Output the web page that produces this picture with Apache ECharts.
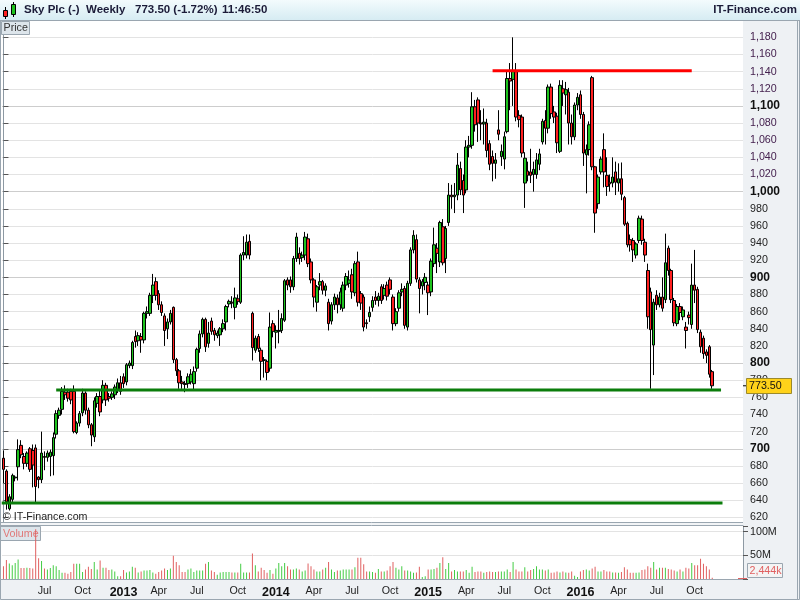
<!DOCTYPE html>
<html>
<head>
<meta charset="utf-8">
<script src="https://cdn.jsdelivr.net/npm/echarts@6/dist/echarts.min.js"></script>
<style>html,body{margin:0;padding:0;background:#fff}#c{width:800px;height:600px}</style>
</head>
<body>
<div id="c"></div>
<script>
// ---------------- data ----------------
const startWeek = '2012-03-26';   // Monday of first weekly candle
const slotCount = 253;            // weekly slots shown on the axis (data + empty right margin)
const lastClose = 773.5;
const lastVolumeLabel = '2,444k';

const opens = [689,674,630,641,666,679,704,691,683,700,698,701,667,664,691,690,691,692,717,739,
746,766,766,767,767,719,730,742,765,745,728,714,753,761,757,774,761,760,763,769,
777,784,778,797,797,831,826,831,827,858,858,879,895,881,868,855,840,848,865,804,
791,778,776,776,778,776,794,817,834,851,823,849,838,832,833,840,848,869,871,865,
875,871,926,926,942,858,815,831,815,804,802,794,846,836,837,838,850,897,897,889,
922,928,923,926,945,918,897,871,891,895,885,871,849,868,876,868,864,891,893,903,
882,918,881,877,847,854,865,877,873,889,879,891,897,877,846,864,883,887,842,893,
932,944,897,890,894,891,883,916,934,918,959,922,964,996,994,996,1027,1013,1002,1052,
1054,1099,1107,1080,1079,1080,1056,1041,1033,1072,1041,1038,1070,1132,1131,1140,1089,1087,1010,1024,
1023,1020,1020,1032,1058,1083,1074,1122,1093,1088,1047,1120,1113,1116,1080,1064,1101,1113,1090,1043,
1049,1133,1029,986,1023,1049,1019,1011,1010,1023,1010,1015,993,963,944,943,926,943,968,941,
908,883,821,879,868,877,874,934,908,873,846,866,854,842,856,845,891,886,836,829,
813,819,790];
const closes = [676,638,644,669,667,699,693,683,695,676,681,656,664,695,690,695,696,713,741,745,
767,763,759,757,720,730,741,765,745,728,716,756,761,743,774,757,759,764,772,777,
767,776,798,800,824,825,832,827,858,860,879,891,879,868,859,838,848,858,804,791,
777,776,775,784,787,790,816,834,851,819,835,837,833,835,840,846,866,872,870,876,
872,926,929,941,926,818,829,817,802,803,789,842,837,838,838,852,896,891,889,922,
947,922,926,947,916,897,877,889,895,885,890,846,868,877,868,883,891,901,897,883,
916,871,870,842,846,859,873,873,878,873,887,878,886,846,860,882,886,844,893,932,
949,898,887,895,900,882,919,938,928,964,917,957,996,994,996,1031,1002,996,1052,1054,
1099,1078,1080,1079,1081,1048,1032,1033,1037,1067,1047,1064,1132,1129,1140,1087,1084,1045,1039,1019,
1019,1026,1037,1044,1082,1074,1122,1091,1087,1057,1124,1115,1119,1080,1064,1101,1110,1090,1045,1049,
1078,1029,975,1017,1038,1023,1006,1009,1017,1011,1015,997,962,938,938,932,939,969,943,926,
854,839,871,868,877,864,917,908,874,847,866,859,862,838,853,891,885,839,819,811,
809,787,773.5];
const lows = [660,629,628,638,662,663,689,676,679,673,655,637,654,660,675,685,668,669,712,735,
740,757,755,752,718,717,726,738,740,724,703,708,748,738,753,750,755,757,758,765,
763,771,774,794,793,818,820,812,823,852,855,870,873,862,855,820,828,845,800,785,
770,770,766,771,775,768,790,812,830,813,818,833,826,829,820,836,838,865,864,851,
868,869,920,922,921,803,812,813,780,783,780,790,830,817,823,835,848,885,882,885,
918,915,918,920,912,893,865,860,885,880,878,838,845,862,858,862,860,885,888,875,
878,866,862,837,840,848,860,868,866,869,874,873,880,838,843,860,878,840,838,890,
928,894,858,880,885,856,878,912,905,912,914,905,960,980,975,990,996,975,998,1040,
1050,1070,1058,1060,1055,1040,1025,1012,1015,1060,1030,1026,1068,1095,1100,1082,1075,1040,981,1012,
1010,1000,1015,1025,1055,1055,1068,1085,1080,1045,1045,1100,1090,1055,1055,1060,1095,1085,1030,998,
1042,1025,952,980,1020,1005,995,1000,1005,996,1000,990,960,935,930,918,922,940,938,918,
840,770,786,862,865,860,870,902,870,843,843,850,850,817,845,840,870,835,812,805,
800,783,770];
const highs = [698,676,647,671,669,711,710,695,697,702,705,705,668,720,697,698,699,719,745,748,
772,774,770,770,774,732,744,770,767,748,730,760,765,768,780,777,765,767,775,782,
785,788,800,803,826,838,836,835,860,866,882,904,900,885,872,858,852,862,866,806,
793,785,779,788,793,796,818,838,853,853,848,853,841,838,842,851,868,874,878,888,
880,928,948,950,950,860,832,834,818,807,804,859,850,844,862,858,898,900,901,925,
952,935,930,953,951,922,899,891,905,897,893,875,871,881,880,888,895,905,908,910,
919,930,884,880,851,866,878,884,882,892,892,895,900,880,864,885,893,890,896,935,
955,950,900,898,905,895,922,958,940,966,968,960,1010,1008,1010,1045,1035,1020,1060,1065,
1116,1107,1110,1095,1097,1085,1060,1048,1045,1095,1055,1070,1140,1150,1180,1150,1095,1090,1046,1035,
1050,1035,1045,1050,1085,1095,1125,1126,1100,1092,1130,1130,1128,1121,1090,1104,1115,1118,1093,1055,
1082,1135,1030,1020,1041,1068,1040,1020,1040,1035,1033,1034,995,965,950,946,941,972,972,945,
916,888,875,885,882,900,951,937,910,876,869,870,866,848,860,916,932,889,839,832,
816,821,792];
const volumes = [27,40,33,29,34,41,23,23,24,23,22,105,44,38,22,20,23,29,27,19,
13,13,11,15,32,32,32,15,20,26,21,36,20,39,24,24,19,20,16,6,
6,19,14,16,26,24,14,16,18,18,19,14,11,15,18,22,19,22,49,36,
29,15,15,20,22,15,18,18,18,32,36,18,15,9,14,15,15,15,14,14,
14,32,14,14,14,54,29,16,24,19,13,19,11,22,34,27,34,27,20,20,
22,20,16,18,33,27,20,16,16,20,24,36,20,15,18,18,20,20,20,20,
25,45,45,31,16,16,15,13,21,16,16,18,27,36,24,20,27,18,18,16,
13,14,26,4,6,20,20,21,24,34,46,21,34,16,19,16,16,16,19,13,
26,15,16,16,13,15,16,15,15,16,16,16,20,15,36,20,16,16,25,16,
19,21,27,20,20,18,20,13,14,16,14,16,14,13,16,7,4,16,19,20,
18,22,26,16,16,19,16,16,14,14,13,15,25,20,13,13,13,14,19,20,
27,24,36,20,24,24,24,21,20,18,16,20,16,24,22,34,29,29,43,32,
27,20,2.444];

// horizontal trend lines drawn by hand on the chart: [from slot, to slot, price]
const resistanceLine = [167, 235, 1141];
const supportLine = [18, 245, 768.5];
const baseLine = [-0.6, 245.5, 636.7];

const quarterMonthNames = {3: 'Apr', 6: 'Jul', 9: 'Oct'};

// ---------------- build ----------------
const FONT = '"Liberation Sans", Arial, sans-serif';
const UP = '#1ec31e', DOWN = '#ff2020';
const VUP = '#44cc44', VDOWN = '#e06060';

const cats = [];
const t0 = Date.parse(startWeek + 'T00:00:00Z');
for (let i = 0; i < slotCount; i++) cats.push(new Date(t0 + i * 7 * 86400000).toISOString().slice(0, 10));

function quarterLabel(val) {
  const m = +val.slice(5, 7) - 1, day = +val.slice(8, 10);
  if (day > 7) return null;
  if (m === 0) return val.slice(0, 4);
  return quarterMonthNames[m] || null;
}
function commas(v) {
  const s = String(Math.round(v));
  return s.length > 3 ? s.slice(0, s.length - 3) + ',' + s.slice(s.length - 3) : s;
}

const candleData = opens.map((o, i) => [o, closes[i], lows[i], highs[i]]);
const volData = volumes.map((v, i) => ({value: v, itemStyle: {color: closes[i] >= opens[i] ? VUP : VDOWN}}));

const priceSplitColors = [];
for (let v = 600; v <= 1200; v += 20) {
  priceSplitColors.push(v === 600 || v === 1200 ? 'rgba(0,0,0,0)' : (v % 100 === 0 ? '#cdcdcd' : '#e3e3e3'));
}

function levelSeries(l, color) {
  return {type: 'line', xAxisIndex: 2, yAxisIndex: 0, data: [[l[0], l[2]], [l[1], l[2]]],
    symbol: 'none', silent: true, z: 5, lineStyle: {color: color, width: 3}};
}

const chart = echarts.init(document.getElementById('c'), null, {renderer: 'canvas'});
const option = {
  animation: false,
  backgroundColor: '#ffffff',
  textStyle: {fontFamily: FONT},
  grid: [
    {left: 2, right: 57, top: 20.2, height: 514.3},
    {left: 2, right: 57, top: 526, height: 53}
  ],
  xAxis: [
    {type: 'category', gridIndex: 0, data: cats, boundaryGap: true,
      axisLine: {show: false}, axisTick: {show: false}, axisLabel: {show: false}, splitLine: {show: false}},
    {type: 'category', gridIndex: 1, data: cats, boundaryGap: true,
      axisLine: {show: false}, axisTick: {show: false}, splitLine: {show: false},
      axisLabel: {
        margin: 7,
        interval: (idx, val) => idx > 4 && idx < opens.length && quarterLabel(val) !== null,
        formatter: (val) => {
          const t = quarterLabel(val);
          if (!t) return '';
          return /^\d{4}$/.test(t) ? '{y|' + t + '}' : '{m|' + t + '}';
        },
        rich: {
          y: {fontFamily: FONT, fontWeight: 'bold', fontSize: 12.5, color: '#111'},
          m: {fontFamily: FONT, fontSize: 10.7, color: '#222'}
        }
      }},
    {type: 'value', gridIndex: 0, min: -0.5, max: slotCount - 0.5, show: false, position: 'top'}
  ],
  yAxis: [
    {type: 'value', gridIndex: 0, position: 'right', min: 600, max: 1200, interval: 20, scale: false,
      axisLine: {show: true, lineStyle: {color: '#8d99a3', width: 1}},
      axisTick: {show: true, length: 5, lineStyle: {color: '#555'}},
      splitLine: {show: true, lineStyle: {color: priceSplitColors, width: 1}},
      axisLabel: {
        margin: 7,
        formatter: (v) => {
          if (v <= 600 || v >= 1200) return '';
          const s = commas(v);
          if (v % 100 === 0) return '{b|' + s + '}';
          return v > 1000 ? '{p|' + s + '}' : '{n|' + s + '}';
        },
        rich: {
          b: {fontFamily: FONT, fontWeight: 'bold', fontSize: 12, color: '#111'},
          n: {fontFamily: FONT, fontSize: 10.7, color: '#222'},
          p: {fontFamily: FONT, fontSize: 10.7, color: '#45214f'}
        }
      }},
    {type: 'value', gridIndex: 1, position: 'right', min: 0, max: 112, interval: 50,
      axisLine: {show: true, lineStyle: {color: '#8d99a3', width: 1}},
      axisTick: {show: true, length: 5, lineStyle: {color: '#555'}},
      splitLine: {show: true, lineStyle: {color: ['rgba(0,0,0,0)', '#e3e3e3', '#e3e3e3', 'rgba(0,0,0,0)'], width: 1}},
      axisLabel: {
        margin: 7, fontFamily: FONT, fontSize: 10.7, color: '#222',
        formatter: (v) => (v === 50 || v === 100) ? v + 'M' : ''
      }}
  ],
  series: [
    {type: 'candlestick', xAxisIndex: 0, yAxisIndex: 0, data: candleData, barWidth: 3, z: 3,
      itemStyle: {color: UP, color0: DOWN, borderColor: '#000', borderColor0: '#000', borderWidth: 1}},
    {type: 'bar', xAxisIndex: 1, yAxisIndex: 1, data: volData, barWidth: 1, silent: true, z: 3},
    levelSeries(resistanceLine, '#ff0000'),
    levelSeries(supportLine, '#0b7d0b'),
    levelSeries(baseLine, '#0b7d0b')
  ]
};
chart.setOption(option);

// overlays / frame
const yLast = chart.convertToPixel({yAxisIndex: 0}, lastClose);
const graphics = [
  // axis area backgrounds
  {type: 'rect', id: 'axbg', z: -10, shape: {x: 743, y: 20, width: 57, height: 580}, style: {fill: '#eef1f4'}},
  {type: 'rect', id: 'xbg', z: -10, shape: {x: 0, y: 579, width: 800, height: 21}, style: {fill: '#eef1f4'}},
  {type: 'line', id: 'xbgline', z: 50, shape: {x1: 0, y1: 579.5, x2: 743, y2: 579.5}, style: {stroke: '#9aa6b0', lineWidth: 1}},
  // panel separator
  {type: 'rect', id: 'sep', z: 50, shape: {x: 0, y: 522, width: 743, height: 4}, style: {fill: '#f2f4f6'}},
  {type: 'line', id: 'sep1', z: 51, shape: {x1: 0, y1: 522.5, x2: 743, y2: 522.5}, style: {stroke: '#9aa6b0', lineWidth: 1}},
  {type: 'line', id: 'sep2', z: 51, shape: {x1: 0, y1: 525.5, x2: 743, y2: 525.5}, style: {stroke: '#9aa6b0', lineWidth: 1}},
  // outer frame
  {type: 'rect', id: 'frame', z: 60, shape: {x: 0.5, y: 0.5, width: 799, height: 599}, style: {fill: null, stroke: '#9aa6b0', lineWidth: 1}},
  {type: 'line', id: 'rframe', z: 60, shape: {x1: 797.5, y1: 20, x2: 797.5, y2: 600}, style: {stroke: '#9aa6b0', lineWidth: 1}},
  // title bar
  {type: 'rect', id: 'titlebar', z: 100, shape: {x: 0, y: 0, width: 800, height: 20},
    style: {fill: new echarts.graphic.LinearGradient(0, 0, 0, 1, [{offset: 0, color: '#f3fbfd'}, {offset: 1, color: '#d6ecf3'}])}},
  {type: 'line', id: 'titleline', z: 101, shape: {x1: 0, y1: 20.5, x2: 800, y2: 20.5}, style: {stroke: '#9aa6b0', lineWidth: 1}},
  // icon
  {type: 'line', id: 'ic1w', z: 102, shape: {x1: 5.5, y1: 7, x2: 5.5, y2: 19}, style: {stroke: '#000', lineWidth: 1}},
  {type: 'rect', id: 'ic1', z: 103, shape: {x: 3.5, y: 10.5, width: 4, height: 6}, style: {fill: DOWN, stroke: '#000', lineWidth: 1}},
  {type: 'line', id: 'ic2w', z: 102, shape: {x1: 13.5, y1: 2, x2: 13.5, y2: 17}, style: {stroke: '#000', lineWidth: 1}},
  {type: 'rect', id: 'ic2', z: 103, shape: {x: 11.5, y: 4.5, width: 4, height: 10}, style: {fill: UP, stroke: '#000', lineWidth: 1}},
  {type: 'text', id: 't1', z: 104, x: 24, y: 10, style: {text: 'Sky Plc (-)', fill: '#1b1b38', font: 'bold 11.5px ' + FONT, textVerticalAlign: 'middle'}},
  {type: 'text', id: 't2', z: 104, x: 86, y: 10, style: {text: 'Weekly', fill: '#1b1b38', font: 'bold 11.5px ' + FONT, textVerticalAlign: 'middle'}},
  {type: 'text', id: 't3', z: 104, x: 135, y: 10, style: {text: '773.50 (-1.72%)', fill: '#1b1b38', font: 'bold 11.5px ' + FONT, textVerticalAlign: 'middle'}},
  {type: 'text', id: 't4', z: 104, x: 222, y: 10, style: {text: '11:46:50', fill: '#1b1b38', font: 'bold 11.5px ' + FONT, textVerticalAlign: 'middle'}},
  {type: 'text', id: 't5', z: 104, x: 797, y: 10, style: {text: 'IT-Finance.com', fill: '#1b1b38', font: 'bold 11.5px ' + FONT, textAlign: 'right', textVerticalAlign: 'middle'}},
  // panel tags
  {type: 'rect', id: 'ptag', z: 70, shape: {x: 1.5, y: 21.5, width: 28, height: 13}, style: {fill: '#dde5eb', stroke: '#9aa6b0', lineWidth: 1}},
  {type: 'text', id: 'ptagt', z: 71, x: 3.5, y: 28.5, style: {text: 'Price', fill: '#333', font: '10.7px ' + FONT, textVerticalAlign: 'middle'}},
  {type: 'rect', id: 'vtag', z: 1, shape: {x: 0.5, y: 526.5, width: 40, height: 14}, style: {fill: '#dde5eb', stroke: '#9aa6b0', lineWidth: 1}},
  {type: 'text', id: 'vtagt', z: 1, x: 3, y: 534, style: {text: 'Volume', fill: '#e07878', font: '10.7px ' + FONT, textVerticalAlign: 'middle'}},
  {type: 'text', id: 'copy', z: 71, x: 3, y: 517, style: {text: '\u00a9 IT-Finance.com', fill: '#222', font: '10.7px ' + FONT, textVerticalAlign: 'middle'}},
  // last price tag
  {type: 'line', id: 'lpt', z: 80, shape: {x1: 743, y1: yLast, x2: 747, y2: yLast}, style: {stroke: '#000', lineWidth: 1}},
  {type: 'rect', id: 'lpbox', z: 80, shape: {x: 746.5, y: Math.round(yLast) - 7.5, width: 45, height: 15}, style: {fill: '#ffd21a', stroke: '#9c8a2a', lineWidth: 1}},
  {type: 'text', id: 'lptext', z: 81, x: 749, y: Math.round(yLast), style: {text: lastClose.toFixed(2), fill: '#111', font: '10.7px ' + FONT, textVerticalAlign: 'middle'}},
  // last volume tag
  {type: 'line', id: 'lvt', z: 80, shape: {x1: 738, y1: 578.5, x2: 747, y2: 578.5}, style: {stroke: '#e06060', lineWidth: 1}},
  {type: 'rect', id: 'lvbox', z: 80, shape: {x: 747.5, y: 563.5, width: 35, height: 14}, style: {fill: '#f4f4f4', stroke: '#9aa6b0', lineWidth: 1}},
  {type: 'text', id: 'lvtext', z: 81, x: 749.5, y: 571, style: {text: lastVolumeLabel, fill: '#e06060', font: '10.7px ' + FONT, textVerticalAlign: 'middle'}}
];
chart.setOption({graphic: graphics});
</script>
</body>
</html>
